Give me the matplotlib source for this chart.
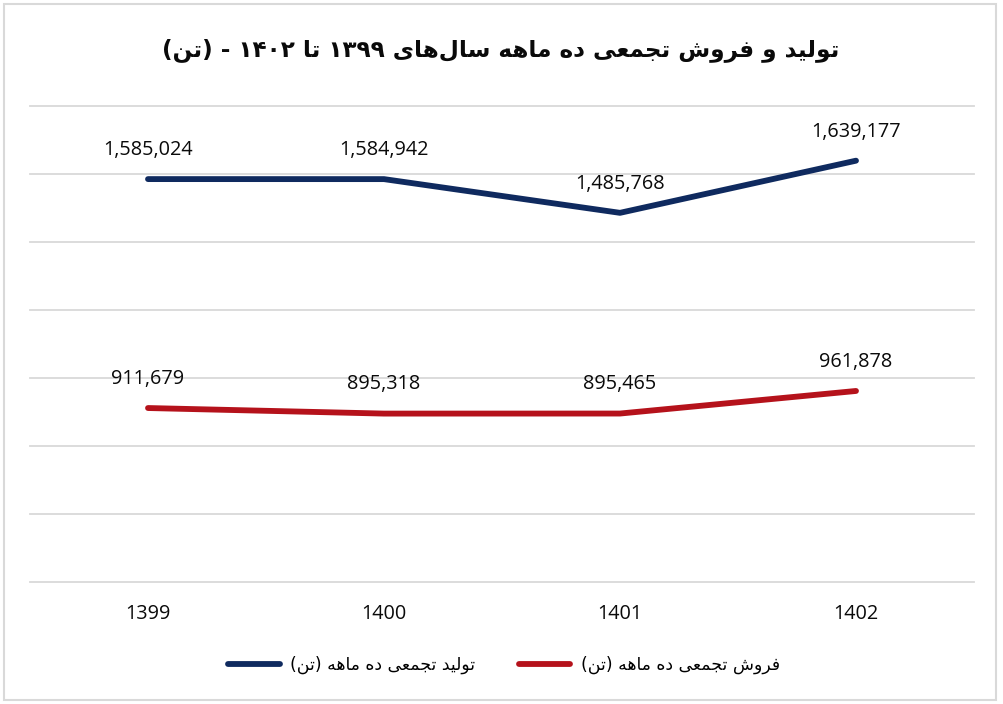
import matplotlib
matplotlib.use("Agg")
import matplotlib.pyplot as plt
from matplotlib.patches import Rectangle
from matplotlib.ticker import MultipleLocator

# ---------------- data ----------------
years = ["1399", "1400", "1401", "1402"]
production = [1585024, 1584942, 1485768, 1639177]
sales = [911679, 895318, 895465, 961878]
title_text = "تولید و فروش تجمعی ده ماهه سال\u200cهای ۱۳۹۹ تا ۱۴۰۲ - (تن)"
label_production = "تولید تجمعی ده ماهه (تن)"
label_sales = "فروش تجمعی ده ماهه (تن)"

# ------------- minimal Persian shaping (presentation forms) -------------
# (isolated, final, initial, medial); None -> letter does not join forward
FORMS = {
    'ا': ('\uFE8D', '\uFE8E', None, None),
    'ت': ('\uFE95', '\uFE96', '\uFE97', '\uFE98'),
    'ج': ('\uFE9D', '\uFE9E', '\uFE9F', '\uFEA0'),
    'د': ('\uFEA9', '\uFEAA', None, None),
    'ر': ('\uFEAD', '\uFEAE', None, None),
    'س': ('\uFEB1', '\uFEB2', '\uFEB3', '\uFEB4'),
    'ش': ('\uFEB5', '\uFEB6', '\uFEB7', '\uFEB8'),
    'ع': ('\uFEC9', '\uFECA', '\uFECB', '\uFECC'),
    'ف': ('\uFED1', '\uFED2', '\uFED3', '\uFED4'),
    'ل': ('\uFEDD', '\uFEDE', '\uFEDF', '\uFEE0'),
    'م': ('\uFEE1', '\uFEE2', '\uFEE3', '\uFEE4'),
    'ن': ('\uFEE5', '\uFEE6', '\uFEE7', '\uFEE8'),
    'ه': ('\uFEE9', '\uFEEA', '\uFEEB', '\uFEEC'),
    'و': ('\uFEED', '\uFEEE', None, None),
    'ی': ('\uFBFC', '\uFBFD', '\uFBFE', '\uFBFF'),
}
MIRROR = {'(': ')', ')': '('}
DIGITS = set("0123456789۰۱۲۳۴۵۶۷۸۹")


def shape_rtl(text):
    out = []
    n = len(text)
    for i, ch in enumerate(text):
        if ch == '\u200c':
            continue
        if ch not in FORMS:
            out.append(ch)
            continue
        prev = text[i - 1] if i > 0 else ''
        nxt = text[i + 1] if i + 1 < n else ''
        join_prev = prev in FORMS and FORMS[prev][2] is not None
        join_next = FORMS[ch][2] is not None and nxt in FORMS
        iso, fin, ini, med = FORMS[ch]
        if join_prev and join_next:
            out.append(med)
        elif join_prev:
            out.append(fin)
        elif join_next:
            out.append(ini)
        else:
            out.append(iso)
    # visual ordering: reverse runs, keep digit runs LTR
    runs = []
    for ch in out:
        isd = ch in DIGITS
        if runs and runs[-1][0] == isd:
            runs[-1][1].append(ch)
        else:
            runs.append([isd, [ch]])
    vis = []
    for isd, chars in reversed(runs):
        if isd:
            vis.extend(chars)
        else:
            vis.extend(MIRROR.get(c, c) for c in reversed(chars))
    return ''.join(vis)


# ---------------- figure ----------------
BLUE = "#0F2A5F"
RED = "#B5121B"
GRID = "#D9D9D9"
NUMFONT = ["Open Sans", "DejaVu Sans"]

fig = plt.figure(figsize=(10.04, 7.04), dpi=100)
fig.patch.set_facecolor("white")
fig.add_artist(Rectangle((0.004, 0.005), 0.988, 0.99, transform=fig.transFigure,
                         fill=False, edgecolor=GRID, linewidth=1.5))

ax = fig.add_axes([30 / 1004, 1 - 582 / 704, 944 / 1004, (582 - 106) / 704])
x = list(range(len(years)))
ax.plot(x, production, color=BLUE, linewidth=4.2, solid_capstyle="round",
        solid_joinstyle="round", label=shape_rtl(label_production), zorder=3)
ax.plot(x, sales, color=RED, linewidth=4.2, solid_capstyle="round",
        solid_joinstyle="round", label=shape_rtl(label_sales), zorder=3)

for xi, v in zip(x, production):
    ax.annotate(f"{v:,}", (xi, v), xytext=(0, 21), textcoords="offset points",
                ha="center", va="center", fontsize=14.3, family=NUMFONT, color="#0A0A0A")
for xi, v in zip(x, sales):
    ax.annotate(f"{v:,}", (xi, v), xytext=(0, 21), textcoords="offset points",
                ha="center", va="center", fontsize=14.3, family=NUMFONT, color="#0A0A0A")

ax.set_xlim(-0.5, len(years) - 0.5)
ax.set_ylim(400000, 1800000)
ax.yaxis.set_major_locator(MultipleLocator(200000))
ax.set_yticklabels([])
ax.tick_params(axis="y", length=0)
ax.set_xticks(x)
ax.set_xticklabels(years, fontsize=14.3, family=NUMFONT, color="#0A0A0A")
ax.tick_params(axis="x", length=0, pad=16)
ax.grid(axis="y", color=GRID, linewidth=1.3, zorder=0)
ax.set_axisbelow(True)
for gl in ax.get_ygridlines():
    gl.set_clip_on(False)
for s in ax.spines.values():
    s.set_visible(False)

fig.text(0.499, 1 - 50 / 704, shape_rtl(title_text), ha="center", va="center",
         fontsize=16.7, fontweight="bold", family=["DejaVu Sans"], color="#0A0A0A")

leg = fig.legend(loc="center", bbox_to_anchor=(0.502, 1 - 665 / 704), ncol=2,
                 frameon=False, handlelength=3.0, handletextpad=0.6,
                 columnspacing=2.5, prop={"family": ["DejaVu Sans"], "size": 12.4})

fig.savefig("out.png", dpi=100, facecolor="white")
